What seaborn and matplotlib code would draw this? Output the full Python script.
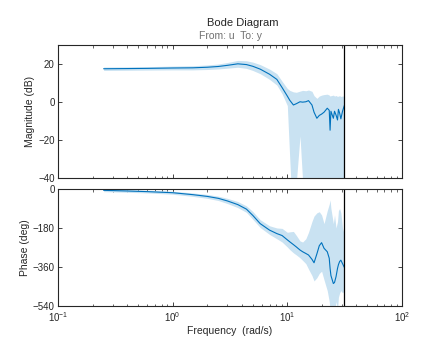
import numpy as np
import pandas as pd
import matplotlib
matplotlib.use("Agg")
import matplotlib.pyplot as plt
import matplotlib.ticker as mticker
import seaborn as sns

# --- data (freq in rad/s) ---
freq = [0.25, 0.4, 0.6, 1.0, 1.5, 2.0, 2.5, 3.0, 3.7, 4.4, 5.0, 5.8, 7.0, 8.1, 9.0,
        10.0, 10.5, 11.3, 12.0, 12.9, 13.6, 14.5, 15.3, 16.4, 17.1, 18.1, 19.0, 19.9,
        20.9, 22.3, 23.2, 23.6, 24.0, 25.2, 25.8, 26.6, 27.4, 27.9, 28.6, 29.3, 30.3, 31.4]

mag = [17.4, 17.5, 17.6, 17.8, 17.9, 18.2, 18.6, 19.2, 20.0, 19.6, 18.7, 17.2, 14.5, 11.8, 7.5,
       3.0, 0.8, -1.7, -1.0, 0.0, -0.2, 0.0, 0.6, -1.7, -5.5, -8.7, -7.2, -6.5,
       -5.5, -3.4, -4.5, -15.0, -5.0, -8.7, -5.0, -7.0, -9.6, -4.0, -6.0, -9.0, -5.0, -2.0]
mag_hi = [18.3, 18.4, 18.5, 18.8, 19.0, 19.4, 19.9, 20.7, 21.8, 21.6, 20.9, 19.6, 17.2, 14.8, 10.8,
          7.0, 6.0, 5.2, 5.0, 5.6, 6.0, 5.8, 6.2, 5.5, 3.2, 1.8, 3.0, 3.5,
          3.8, 4.0, 3.5, 3.0, 3.2, 3.5, 3.0, 3.3, 2.8, 3.0, 3.2, 2.8, 3.0, 3.0]
mag_lo = [16.5, 16.6, 16.7, 16.8, 16.8, 17.0, 17.3, 17.7, 18.2, 17.6, 16.5, 14.8, 11.8, 8.8, 4.2,
          -2.0, -30.0, -70.0, -42.0, -18.0, -42.0, -70.0, -70.0, -70.0, -70.0, -70.0, -70.0, -70.0,
          -70.0, -70.0, -70.0, -70.0, -70.0, -70.0, -70.0, -70.0, -70.0, -70.0, -70.0, -70.0, -70.0, -70.0]

phase = [-6, -9, -12, -17, -26, -34, -43, -55, -72, -93, -122, -160, -190, -206, -215,
         -235, -244, -257, -268, -282, -290, -298, -305, -325, -341, -300, -262, -248,
         -274, -290, -320, -367, -400, -437, -432, -405, -367, -350, -335, -329, -345, -362]
phase_hi = [0, -3, -6, -10, -18, -25, -33, -43, -58, -78, -104, -142, -170, -180, -182,
            -200, -198, -196, -215, -240, -245, -230, -200, -150, -125, -110, -105, -120,
            -160, -100, -70, -50, -90, -160, -120, -180, -150, -100, -90, -110, -180, -210]
phase_lo = [-12, -15, -18, -24, -34, -43, -53, -67, -86, -108, -140, -178, -210, -230, -245,
            -268, -280, -295, -305, -318, -330, -345, -370, -400, -425, -410, -390, -380,
            -420, -470, -520, -560, -600, -600, -570, -520, -560, -500, -480, -470, -480, -470]

nyquist = 31.4

df = pd.DataFrame({"freq": freq, "mag": mag, "mag_lo": mag_lo, "mag_hi": mag_hi,
                   "phase": phase, "phase_lo": phase_lo, "phase_hi": phase_hi})

sns.set_theme(style="white")
plt.rcParams['font.family'] = ['Liberation Sans', 'DejaVu Sans']
plt.rcParams['mathtext.fontset'] = 'custom'
plt.rcParams['mathtext.rm'] = 'Liberation Sans'
plt.rcParams['mathtext.default'] = 'regular'

line_c = "#0072BD"
band_c = "#c9e2f2"
txt_c = "#262626"

fig = plt.figure(figsize=(4.36, 3.56), dpi=100)
fig.patch.set_facecolor("white")
ax1 = fig.add_axes([0.133, 0.501, 0.789, 0.373])
ax2 = fig.add_axes([0.133, 0.141, 0.789, 0.328])

panels = [(ax1, "mag", (-40, 30), [-40, -20, 0, 20], "Magnitude (dB)"),
          (ax2, "phase", (-540, 0), [-540, -360, -180, 0], "Phase (deg)")]

for ax, col, ylim, yticks, ylab in panels:
    ax.fill_between(df["freq"], df[col + "_lo"], df[col + "_hi"], color=band_c, lw=0)
    sns.lineplot(data=df, x="freq", y=col, ax=ax, color=line_c, lw=0.8, sort=False)
    ax.axvline(nyquist, color="black", lw=0.9)
    ax.set_xscale("log")
    ax.set_xlim(0.1, 100)
    ax.set_ylim(*ylim)
    ax.set_yticks(yticks)
    ax.set_ylabel(ylab, fontsize=7.5, color=txt_c, labelpad=2)
    ax.set_xlabel("")
    ax.xaxis.set_minor_locator(mticker.LogLocator(base=10, subs=np.arange(2, 10), numticks=20))
    ax.tick_params(which="both", direction="in", top=True, right=True, bottom=True, left=True,
                   colors=txt_c, labelsize=7, pad=2.5)
    ax.tick_params(axis="x", pad=3.5)
    ax.tick_params(which="major", length=3, width=0.6)
    ax.tick_params(which="minor", length=1.8, width=0.5)
    for s in ax.spines.values():
        s.set_color(txt_c)
        s.set_linewidth(0.8)

ax1.tick_params(labelbottom=False)
ax2.set_xlabel("Frequency  (rad/s)", fontsize=7.5, color=txt_c, labelpad=1)

fig.text(0.557, 0.935, "Bode Diagram", ha="center", va="center", fontsize=8, color=txt_c)
fig.text(0.528, 0.899, "From: u  To: y", ha="center", va="center", fontsize=7.5, color="#707070")

fig.savefig("out.png", dpi=100)
